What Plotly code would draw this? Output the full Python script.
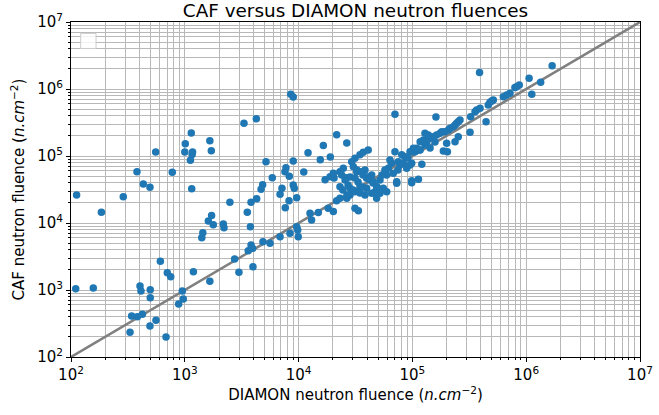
import plotly.graph_objects as go

# DIAMON neutron fluence (n/cm^2)
diamon = [
    110, 157, 112, 288, 185, 432, 494, 380, 555, 776,
    404, 412, 497, 497, 610, 702, 752, 951, 970, 883,
    341, 383, 424, 330, 494, 558, 684,
    1140, 1010, 1000, 1170, 1160, 1120, 1660, 1710, 3310, 4250,
    1150, 2490, 1720, 1610, 1780, 2180, 2210, 1440, 1410,
    3540, 3820, 4280, 3770, 3820, 3610, 3950, 2740, 3970, 2990, 1190, 1660,
    8530, 8970, 5170, 8970, 7740, 7590, 8280, 5870, 4830, 4680, 7140, 8970, 9160,
    6870, 9620, 8240, 7640, 11100, 12100, 15500, 16500,
    12600, 14900, 18200, 13000, 9820, 8400, 6870, 5610, 4860, 9930, 9620,
    20200, 21600, 23100, 26500, 28300, 31300, 33500, 31300,
    34600, 39600, 43900, 48500, 59400, 72800, 98600,
    389000, 1690000, 1060000, 1340000, 869000, 824000, 796000, 1120000,
    720000, 674000, 630000, 514000, 481000, 464000, 498000,
    393000, 367000, 355000, 444000, 325000, 321000, 161000,
    262000, 253000, 245000, 237000, 229000, 214000, 207000, 193000, 181000, 175000,
    163000, 153000, 143000, 200000, 237000, 253000, 187000, 203000,
    129000, 143000, 158000, 117000, 134000, 70300, 21600, 26500, 19000,
    31300, 34600, 37000, 40900, 29300, 30300, 32400, 35800, 38300, 39600,
    43900, 45300, 48500, 51900, 55500, 59400, 61400, 65800, 70300, 75200,
    80500, 83200, 89100, 95300, 98600, 102000, 109000, 117000, 125000, 129000,
    138000, 98600, 113000, 121000, 67900, 72800, 46900, 51900,
    17100, 20500, 23900, 26100, 23100, 28300, 24700, 23100, 20200, 18900,
    32600, 36100, 36800, 39900, 42400, 45100, 48900, 36800, 33300, 31300,
    28300, 25600, 27200, 30100, 34600, 38300, 24500, 26600,
    57400, 63500, 77800, 86100, 105000, 115000, 134000, 102000, 95300,
    91400, 74600, 54100,
]

# CAF neutron fluence (n/cm^2)
caf = [
    1040, 1070, 26200, 24700, 14500, 38200, 34100, 58300, 115000, 57100,
    1150, 966, 1010, 767, 2680, 1810, 1580, 966, 735, 618,
    409, 400, 434, 234, 290, 353, 199,
    220000, 153000, 115000, 115000, 105000, 86300, 169000, 120000, 308000, 360000,
    32500, 20400, 12900, 10700, 9440, 9660, 8510, 7170, 6040,
    14500, 20400, 23100, 8810, 4700, 3860, 4190, 2900, 2230, 1840, 1880, 1350,
    834000, 760000, 82200, 84200, 66900, 58300, 49800, 47400, 37300, 31900, 33000, 36900, 33000,
    26800, 23900, 21500, 16900, 57700, 112000, 88100, 143000,
    14000, 14300, 16600, 11100, 7870, 7020, 6250, 4980, 5260, 6250, 8810,
    14800, 21500, 23400, 23400, 26200, 29300, 15300, 16600,
    34800, 33000, 27700, 23400, 29300, 39200, 40000,
    1770000, 2230000, 1450000, 1260000, 1150000, 1080000, 1050000, 834000,
    862000, 813000, 768000, 685000, 634000, 577000, 662000,
    515000, 486000, 458000, 325000, 386000, 226000, 382000,
    344000, 325000, 308000, 290000, 274000, 259000, 244000, 231000, 231000, 218000,
    206000, 194000, 184000, 155000, 163000, 194000, 119000, 116000,
    146000, 132000, 162000, 123000, 173000, 419000, 208000, 156000, 96600,
    92400, 104000, 114000, 123000, 82200, 69200, 58300, 58300, 61800, 46500,
    52000, 41300, 34800, 43800, 33000, 52000, 65500, 77800, 116000, 82200,
    104000, 77800, 65500, 73400, 77800, 116000, 130000, 163000, 173000, 218000,
    206000, 42800, 44900, 75200, 55200, 41300, 29300, 27700,
    44300, 47000, 52000, 47400, 34800, 33000, 65500, 58300, 55200, 49100,
    61800, 57700, 52000, 48600, 43800, 39500, 34500, 34500, 40900, 47000,
    48600, 43800, 36900, 31100, 28000, 26200, 31100, 26200,
    61800, 87100, 73400, 97700, 116000, 123000, 163000, 130000, 116000,
    93300, 61800, 52000,
]

# y = x reference line
line_vals = [1e2, 1e7]

tick_vals = [1e2, 1e3, 1e4, 1e5, 1e6, 1e7]
tick_text = ["10<sup>2</sup>", "10<sup>3</sup>", "10<sup>4</sup>",
             "10<sup>5</sup>", "10<sup>6</sup>", "10<sup>7</sup>"]

FONT = "DejaVu Sans"
GRID = "#b8b8b8"

fig = go.Figure()
fig.add_trace(go.Scatter(
    x=line_vals, y=line_vals, mode="lines",
    line=dict(color="#808080", width=2.5), showlegend=False, hoverinfo="skip",
))
fig.add_trace(go.Scatter(
    x=diamon, y=caf, mode="markers",
    marker=dict(color="#1f77b4", size=7.5, line=dict(width=0)),
    showlegend=False,
))

axis_common = dict(
    type="log", range=[2, 7], automargin=False,
    tickvals=tick_vals, ticktext=tick_text,
    showline=True, linecolor="black", linewidth=1, mirror=True,
    ticks="outside", ticklen=4, tickcolor="black", tickwidth=1,
    showgrid=True, gridcolor=GRID, gridwidth=1,
    zeroline=False,
    tickfont=dict(family=FONT, size=15, color="black"),
    minor=dict(dtick="D1", showgrid=True, gridcolor=GRID, gridwidth=1,
               ticks="outside", ticklen=2, tickcolor="black"),
)

W, H = 659, 415

fig.update_layout(
    width=W, height=H,
    margin=dict(l=71, r=19, t=22, b=58),
    paper_bgcolor="white", plot_bgcolor="white",
    font=dict(family=FONT, color="black"),
    hovermode=False,
    title=dict(text="CAF versus DIAMON neutron fluences",
               font=dict(family=FONT, size=18.4, color="black"),
               x=355.5 / W, xanchor="center", xref="container",
               y=1 - 11 / H, yanchor="middle", yref="container"),
    xaxis=dict(**axis_common,
               title=dict(text="DIAMON neutron fluence (<i>n.cm</i><sup>−2</sup>)",
                          font=dict(family=FONT, size=15, color="black"), standoff=4)),
    yaxis=dict(**axis_common,
               title=dict(text="CAF neutron fluence (<i>n.cm</i><sup>−2</sup>)",
                          font=dict(family=FONT, size=15, color="black"), standoff=8)),
    showlegend=False,
    shapes=[dict(type="rect", xref="paper", yref="paper",
                 x0=0.017, x1=0.044, y0=0.921, y1=0.966,
                 line=dict(color="#cccccc", width=1),
                 fillcolor="rgba(255,255,255,0.8)", layer="above")],
)

# remove the browser's default 8px body margin so the figure fills the window
fig.write_html("out.html", config={"displayModeBar": False},
               post_script="document.body.style.margin='0';")
